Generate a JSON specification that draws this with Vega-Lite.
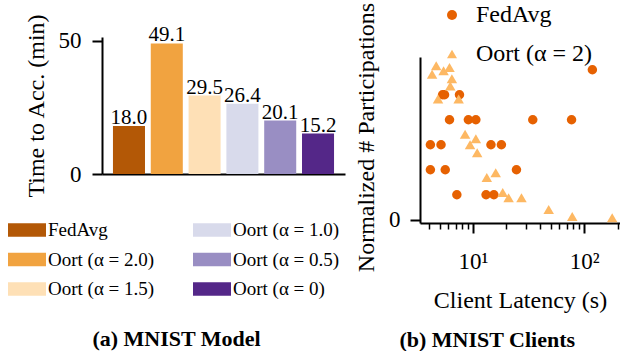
{
  "$schema": "https://vega.github.io/schema/vega-lite/v6.json",
  "padding": {"left": 8, "top": 2, "right": 0, "bottom": 0},
  "bounds": "flush",
  "spacing": 75,
  "config": {
    "font": "Liberation Serif",
    "view": {"stroke": null},
    "axis": {"grid": false, "domainColor": "black", "tickColor": "black", "labelColor": "black", "titleColor": "black", "labelFont": "Liberation Serif", "titleFont": "Liberation Serif", "titleFontWeight": "normal"},
    "legend": {"labelFont": "Liberation Serif", "labelColor": "black", "padding": 0},
    "title": {"font": "Liberation Serif", "color": "black"},
    "text": {"font": "Liberation Serif"}
  },
  "resolve": {"scale": {"color": "independent", "shape": "independent"}, "legend": {"color": "independent", "shape": "independent"}},
  "hconcat": [
    {
      "width": 243,
      "height": 137,
      "data": {"values": [
        {"method": "FedAvg", "time": 18.0},
        {"method": "Oort (α = 2.0)", "time": 49.1},
        {"method": "Oort (α = 1.5)", "time": 29.5},
        {"method": "Oort (α = 1.0)", "time": 26.4},
        {"method": "Oort (α = 0.5)", "time": 20.1},
        {"method": "Oort (α = 0)", "time": 15.2}
      ]},
      "title": {"text": "(a) MNIST Model", "orient": "bottom", "offset": 30, "fontSize": 22, "fontWeight": "bold", "font": "Liberation Serif", "anchor": "middle", "frame": "bounds", "baseline": "top"},
      "encoding": {
        "x": {"field": "method", "type": "nominal",
              "sort": ["FedAvg", "Oort (α = 2.0)", "Oort (α = 1.5)", "Oort (α = 1.0)", "Oort (α = 0.5)", "Oort (α = 0)"],
              "scale": {"paddingInner": 0.153, "paddingOuter": 0.29},
              "axis": {"labels": false, "ticks": false, "title": null, "domainWidth": 2}},
        "y": {"field": "time", "type": "quantitative",
              "scale": {"domain": [0, 51.5], "nice": false},
              "axis": {"values": [0, 50], "tickSize": 10, "tickWidth": 2, "domainWidth": 2, "labelFont": "Liberation Serif", "labelFontSize": 23, "labelPadding": 11, "title": "Time to Acc. (min)", "titleFont": "Liberation Serif", "titleFontSize": 24, "titlePadding": 10}}
      },
      "layer": [
        {
          "mark": {"type": "bar"},
          "encoding": {
            "color": {"field": "method", "type": "nominal",
              "scale": {"domain": ["FedAvg", "Oort (α = 2.0)", "Oort (α = 1.5)", "Oort (α = 1.0)", "Oort (α = 0.5)", "Oort (α = 0)"],
                        "range": ["#b35806", "#f1a340", "#fee0b6", "#d8daeb", "#998ec3", "#542788"]},
              "legend": {"orient": "none", "legendX": -94, "legendY": 174, "columns": 2, "columnPadding": 38, "rowPadding": 0.5, "title": null,
                         "symbolType": "M-1,-0.35H1V0.35H-1Z", "symbolSize": 1444, "symbolStrokeWidth": 0, "symbolOpacity": 1,
                         "labelFont": "Liberation Serif", "labelFontSize": 19, "labelOffset": 2}}
          }
        },
        {
          "mark": {"type": "text", "baseline": "alphabetic", "dy": -2, "fontSize": 21, "font": "Liberation Serif", "color": "black"},
          "encoding": {"text": {"field": "time", "type": "quantitative", "format": ".1f"}}
        }
      ]
    },
    {
      "width": 200,
      "height": 186,
      "data": {"values": [
        {"method": "FedAvg", "latency": 118.7, "part": 6},
        {"method": "FedAvg", "latency": 5.32, "part": 5},
        {"method": "FedAvg", "latency": 5.54, "part": 5},
        {"method": "FedAvg", "latency": 7.55, "part": 5},
        {"method": "FedAvg", "latency": 6.14, "part": 4},
        {"method": "FedAvg", "latency": 9.08, "part": 4},
        {"method": "FedAvg", "latency": 10.6, "part": 4},
        {"method": "FedAvg", "latency": 34.5, "part": 4},
        {"method": "FedAvg", "latency": 77.1, "part": 4},
        {"method": "FedAvg", "latency": 4.13, "part": 3},
        {"method": "FedAvg", "latency": 5.15, "part": 3},
        {"method": "FedAvg", "latency": 14.5, "part": 3},
        {"method": "FedAvg", "latency": 18.0, "part": 3},
        {"method": "FedAvg", "latency": 4.13, "part": 2},
        {"method": "FedAvg", "latency": 5.62, "part": 2},
        {"method": "FedAvg", "latency": 24.6, "part": 2},
        {"method": "FedAvg", "latency": 7.15, "part": 1},
        {"method": "FedAvg", "latency": 13.1, "part": 1},
        {"method": "FedAvg", "latency": 15.4, "part": 1},
        {"method": "Oort (α = 2)", "latency": 4.28, "part": 5.82},
        {"method": "Oort (α = 2)", "latency": 4.66, "part": 6.16},
        {"method": "Oort (α = 2)", "latency": 5.43, "part": 5.96},
        {"method": "Oort (α = 2)", "latency": 6.14, "part": 6.09},
        {"method": "Oort (α = 2)", "latency": 6.45, "part": 5.64},
        {"method": "Oort (α = 2)", "latency": 6.24, "part": 5.35},
        {"method": "Oort (α = 2)", "latency": 4.84, "part": 4.83},
        {"method": "Oort (α = 2)", "latency": 7.42, "part": 4.83},
        {"method": "Oort (α = 2)", "latency": 8.48, "part": 3.42},
        {"method": "Oort (α = 2)", "latency": 10.6, "part": 3.24},
        {"method": "Oort (α = 2)", "latency": 9.4, "part": 3.0},
        {"method": "Oort (α = 2)", "latency": 10.9, "part": 2.68},
        {"method": "Oort (α = 2)", "latency": 13.3, "part": 1.69},
        {"method": "Oort (α = 2)", "latency": 16.0, "part": 1.88},
        {"method": "Oort (α = 2)", "latency": 18.5, "part": 1.09},
        {"method": "Oort (α = 2)", "latency": 20.9, "part": 0.88},
        {"method": "Oort (α = 2)", "latency": 27.3, "part": 0.88},
        {"method": "Oort (α = 2)", "latency": 48.0, "part": 0.41},
        {"method": "Oort (α = 2)", "latency": 78.2, "part": 0.13},
        {"method": "Oort (α = 2)", "latency": 179, "part": 0.08}
      ]},
      "title": {"text": "(b) MNIST Clients", "orient": "bottom", "offset": 18, "fontSize": 22, "fontWeight": "bold", "font": "Liberation Serif", "anchor": "middle", "frame": "bounds", "baseline": "top"},
      "resolve": {"axis": {"x": "independent"}},
      "layer": [
        {
          "transform": [{"filter": "datum.method === 'FedAvg'"}],
          "mark": {"type": "point", "filled": true, "size": 90, "opacity": 1, "strokeWidth": 0},
          "encoding": {
            "x": {"field": "latency", "type": "quantitative",
                  "scale": {"type": "log", "domain": [3.33, 210.5], "nice": false},
                  "axis": {"orient": "bottom", "values": [10, 100], "labelExpr": "datum.value == 10 ? '10¹' : '10²'", "tickSize": 10, "tickWidth": 2, "domain": true, "domainWidth": 2, "labelFont": "Liberation Serif", "labelFontSize": 23, "labelPadding": 17, "labelFlush": false, "title": "Client Latency (s)", "titleFont": "Liberation Serif", "titleFontSize": 24, "titlePadding": 15}},
            "y": {"field": "part", "type": "quantitative",
                  "scale": {"domain": [-0.13, 7.31], "nice": false, "zero": false},
                  "axis": {"values": [0], "tickSize": 10, "tickWidth": 2, "domainWidth": 2, "domainDash": [166, 1000], "labelFont": "Liberation Serif", "labelFontSize": 23, "labelPadding": 10, "title": "Normalized # Participations", "titleFont": "Liberation Serif", "titleFontSize": 24, "titlePadding": 10, "titleY": 100}},
            "color": {"field": "method", "type": "nominal",
                      "scale": {"domain": ["FedAvg", "Oort (α = 2)"], "range": ["#e66101", "#fdb863"]},
                      "legend": {"orient": "none", "legendX": 20, "legendY": -34, "title": null, "symbolSize": 100, "labelFont": "Liberation Serif", "labelFontSize": 24, "labelOffset": 12, "rowPadding": 15, "symbolStrokeWidth": 0}},
            "shape": {"field": "method", "type": "nominal",
                      "scale": {"domain": ["FedAvg", "Oort (α = 2)"], "range": ["circle", "triangle-up"]},
                      "legend": {"orient": "none", "legendX": 20, "legendY": -34, "title": null, "symbolSize": 100, "labelFont": "Liberation Serif", "labelFontSize": 24, "labelOffset": 12, "rowPadding": 15, "symbolStrokeWidth": 0}}
          }
        },
        {
          "transform": [{"filter": "datum.method !== 'FedAvg'"}],
          "mark": {"type": "point", "filled": true, "size": 110, "opacity": 1, "strokeWidth": 0},
          "encoding": {
            "x": {"field": "latency", "type": "quantitative",
                  "scale": {"type": "log", "domain": [3.33, 210.5], "nice": false},
                  "axis": {"orient": "bottom", "values": [4, 5, 6, 7, 8, 9, 20, 30, 40, 50, 60, 70, 80, 90, 200], "tickSize": 6, "tickWidth": 1.5, "labels": false, "domain": false, "title": null}},
            "y": {"field": "part", "type": "quantitative"},
            "color": {"field": "method", "type": "nominal"},
            "shape": {"field": "method", "type": "nominal"}
          }
        }
      ]
    }
  ]
}
